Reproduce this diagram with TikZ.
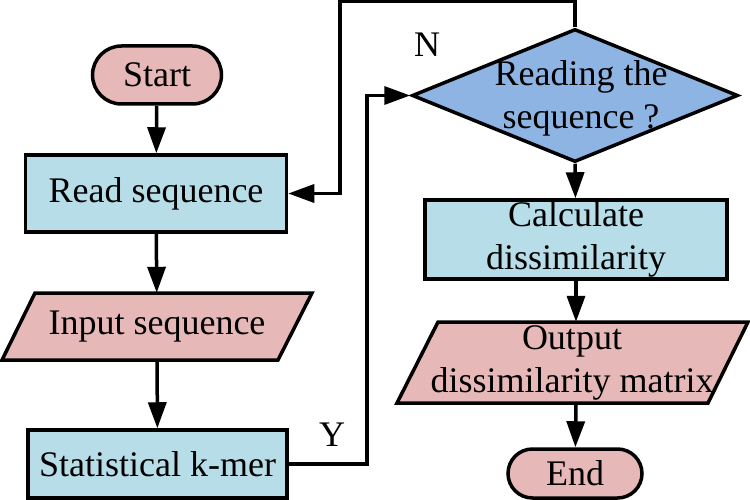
\documentclass[tikz,border=0pt]{standalone}
\usepackage{fontspec}
\setmainfont{Liberation Serif}
\usetikzlibrary{arrows.meta,shapes.geometric}
\definecolor{termpink}{RGB}{230,184,183}
\definecolor{procblue}{RGB}{183,222,232}
\definecolor{decblue}{RGB}{141,180,226}
\begin{document}
\begin{tikzpicture}[x=1pt,y=-1pt,
  every node/.style={font=\fontsize{36}{43}\selectfont,inner sep=0pt},
  outline/.style={draw=black,line width=3.5pt},
  terminal/.style={outline,fill=termpink,rectangle},
  process/.style={outline,fill=procblue,rectangle},
  anchorbox/.style={rectangle},
  decision/.style={outline,fill=decblue,diamond},
  conn/.style={line width=3.5pt,-{Triangle[length=26pt,width=18pt]}},
  tag/.style={}
]
\useasboundingbox (0,0) rectangle (750,500);

% left column
\node[terminal,minimum width=129pt,minimum height=58pt,rounded corners=29pt] (start) at (157,75) {Start};
\node[process,minimum width=261pt,minimum height=77pt] (read) at (156,193.5) {Read sequence};
\draw[outline,fill=termpink] (35,293) -- (312,293) -- (278,360) -- (2,360) -- cycle;
\node[anchorbox,minimum width=276pt,minimum height=67pt] (inp) at (157,326.5) {Input sequence};
\node[process,minimum width=259pt,minimum height=68pt] (stat) at (157.5,464) {Statistical k-mer};

% right column
\node[decision,minimum width=326pt,minimum height=133pt] (dec) at (575,95.5) {};
\node[align=center] (dectext) at (581,98) {Reading the\\sequence ?};
\node[process,minimum width=302pt,minimum height=79pt,align=center] (calc) at (576,239.5) {Calculate\\dissimilarity};
\draw[outline,fill=termpink] (438,322) -- (748,322) -- (708,403) -- (397,403) -- cycle;
\node[anchorbox,minimum width=310pt,minimum height=81pt,align=center] (outp) at (572,362.5) {Output\\dissimilarity matrix};
\node[terminal,minimum width=134pt,minimum height=49pt,rounded corners=24.5pt] (end) at (575,473.5) {End};

% loop corners
\coordinate (ntop) at (340,1.75);
\coordinate (ycorner) at (367,464);

% straight flow
\draw[conn] (start) -- (read);
\draw[conn] (read) -- (inp);
\draw[conn] (inp) -- (stat);
\draw[conn] (dec.south) -- (calc);
\draw[conn] (calc) -- (calc|-outp.north);
\draw[conn] (calc|-outp.south) -- (end);

% feedback loops
\draw[conn] (dec.north) |- (ntop) |- (read.east);
\draw[conn] (stat.east) -- (ycorner) |- (dec.west);

% branch labels
\node[tag] (nlabel) at (427,45) {N};
\node[tag] (ylabel) at (332,435) {Y};
\end{tikzpicture}
\end{document}
